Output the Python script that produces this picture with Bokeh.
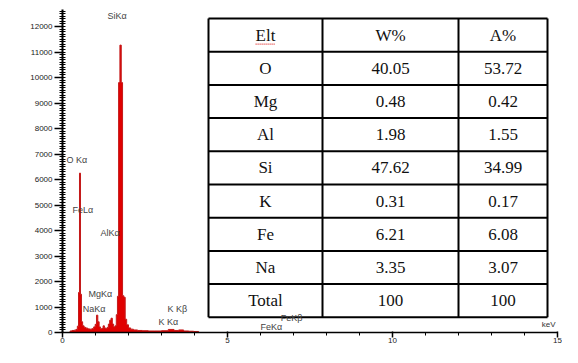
from bokeh.plotting import figure
from bokeh.models import SingleIntervalTicker, Label, ColumnDataSource, Range1d
from bokeh.core.properties import value
from bokeh.embed import file_html
from bokeh.resources import INLINE

# ---------------- data ----------------
ENERGY_KEV = [0.20, 0.26, 0.32, 0.38, 0.43, 0.47, 0.50, 0.53, 0.56, 0.59, 0.63, 0.68,
              0.74, 0.80, 0.86, 0.92, 0.97, 1.01, 1.05, 1.09, 1.13, 1.17, 1.21, 1.25,
              1.29, 1.33, 1.37, 1.41, 1.45, 1.49, 1.53, 1.57, 1.61, 1.65, 1.68, 1.72,
              1.76, 1.80, 1.84, 1.88, 1.92, 1.97, 2.03, 2.10, 2.20, 2.35, 2.50, 2.70,
              2.90, 3.10, 3.31, 3.45, 3.59, 3.75, 3.90, 4.05, 4.20]
COUNTS = [0, 60, 80, 90, 120, 250, 1570, 6250, 1500, 420, 260, 200,
          170, 140, 130, 150, 220, 320, 680, 420, 220, 150, 160, 260,
          180, 150, 200, 330, 480, 560, 330, 220, 260, 700, 1420, 9800,
          11270, 9800, 1440, 1380, 520, 300, 180, 130, 100, 80, 70, 60,
          60, 70, 120, 80, 100, 60, 50, 40, 0]

PEAK_LABELS = ["SiKα", "O Kα", "FeLα", "AlKα", "MgKα", "NaKα", "K Kβ", "K Kα", "FeKβ", "FeKα"]
PEAK_LABEL_X = [1.36, 0.12, 0.30, 1.15, 0.79, 0.61, 3.18, 2.91, 6.61, 6.00]
PEAK_LABEL_Y = [12410, 6770, 4790, 3890, 1500, 940, 940, 410, 550, 235]

X_TICK_INTERVAL = 5
Y_TICK_INTERVAL = 1000

TABLE_HEADER = ["Elt", "W%", "A%"]
ELEMENTS = ["O", "Mg", "Al", "Si", "K", "Fe", "Na", "Total"]
WEIGHT_PCT = ["40.05", "0.48", "1.98", "47.62", "0.31", "6.21", "3.35", "100"]
ATOMIC_PCT = ["53.72", "0.42", "1.55", "34.99", "0.17", "6.08", "3.07", "100"]

# ---------------- layout ----------------
W, H = 562, 347
X_MAX = 15
FRAME_LEFT, FRAME_RIGHT, FRAME_TOP, FRAME_BOTTOM = 62, 557, 9, 332
PX_PER_KEV = (FRAME_RIGHT - FRAME_LEFT) / X_MAX
PX_PER_COUNT = (FRAME_BOTTOM - 26) / 12000.0
Y_TOP = (FRAME_BOTTOM - FRAME_TOP) / PX_PER_COUNT


def xd(px):
    return (px - FRAME_LEFT) / PX_PER_KEV


def yd(py):
    return (FRAME_BOTTOM - py) / PX_PER_COUNT


p = figure(width=W, height=H, output_backend="svg", toolbar_location=None,
           x_range=Range1d(0, X_MAX), y_range=Range1d(0, Y_TOP),
           min_border_left=FRAME_LEFT, min_border_right=W - FRAME_RIGHT,
           min_border_top=FRAME_TOP, min_border_bottom=H - FRAME_BOTTOM)
p.outline_line_color = None
p.xgrid.visible = False
p.ygrid.visible = False
p.background_fill_color = "white"

# spectrum
src = ColumnDataSource(dict(x=ENERGY_KEV, y=COUNTS, z=[0] * len(COUNTS)))
p.varea_step(x="x", y1="z", y2="y", step_mode="center", source=src,
             fill_color="#e00000")
p.step(x="x", y="y", mode="center", source=src, line_color="#c41a1a", line_width=1)

# table (positions in figure pixels, converted to data units)
col_px = [208, 322, 458, 547]
row_top, row_h, n_rows = 18, 33.2, 9
col_x = [xd(c) for c in col_px]
row_y = [yd(row_top + k * row_h) for k in range(n_rows + 1)]

p.segment(x0=[col_x[0]] * len(row_y), x1=[col_x[-1]] * len(row_y),
          y0=row_y, y1=row_y, line_color="black", line_width=2)
p.segment(x0=col_x, x1=col_x, y0=[row_y[0]] * len(col_x), y1=[row_y[-1]] * len(col_x),
          line_color="black", line_width=2)

centers_x = [(col_x[i] + col_x[i + 1]) / 2 for i in range(3)]
centers_y = [(row_y[k] + row_y[k + 1]) / 2 for k in range(n_rows)]
cells_x, cells_y, cells_t = [], [], []
rows = [TABLE_HEADER] + [[e, w, a] for e, w, a in zip(ELEMENTS, WEIGHT_PCT, ATOMIC_PCT)]
for k, r in enumerate(rows):
    for i, t in enumerate(r):
        cells_x.append(centers_x[i])
        cells_y.append(centers_y[k])
        cells_t.append(t)
p.text(x=cells_x, y=cells_y, text=cells_t, text_font=value("Liberation Serif"),
       text_font_size="17px", text_align="center", text_baseline="middle",
       text_color="#111111")
# spell-check squiggle under "Elt"
sq_y = yd(row_top + row_h / 2 + 9)
p.line(x=[centers_x[0] - 0.3, centers_x[0] + 0.3], y=[sq_y, sq_y],
       line_color="#e03030", line_width=1.2, line_dash="1 1")

# peak labels
p.text(x=PEAK_LABEL_X, y=PEAK_LABEL_Y, text=PEAK_LABELS,
       text_font=value("Liberation Sans"), text_font_size="9px",
       text_baseline="middle", text_align="left", text_color="#444444")

# axes
yax = p.yaxis[0]
yax.ticker = SingleIntervalTicker(interval=Y_TICK_INTERVAL, num_minor_ticks=10)
yax.axis_line_width = 2
yax.major_tick_out = 8
yax.major_tick_in = 0
yax.minor_tick_out = 3
yax.minor_tick_in = 3
yax.major_tick_line_width = 1.5
yax.minor_tick_line_width = 1
yax.major_label_standoff = 2
yax.major_label_text_font = "Liberation Sans"
yax.major_label_text_font_size = "8px"
yax.major_label_text_color = "#222222"

xax = p.xaxis[0]
xax.ticker = SingleIntervalTicker(interval=X_TICK_INTERVAL, num_minor_ticks=5)
xax.axis_line_width = 1.5
xax.major_tick_out = 5
xax.major_tick_in = 1
xax.minor_tick_out = 3
xax.minor_tick_in = 0
xax.major_tick_line_width = 1.5
xax.major_label_standoff = 0
xax.major_label_text_font = "Liberation Sans"
xax.major_label_text_font_size = "8px"
xax.major_label_text_color = "#222222"

p.add_layout(Label(x=xd(555), y=yd(FRAME_BOTTOM - 8), text="keV", text_align="right",
                   text_baseline="middle", text_font_size="8px",
                   text_font="Liberation Sans", text_color="#333333"))

open("out.html", "w").write(file_html(p, INLINE))
